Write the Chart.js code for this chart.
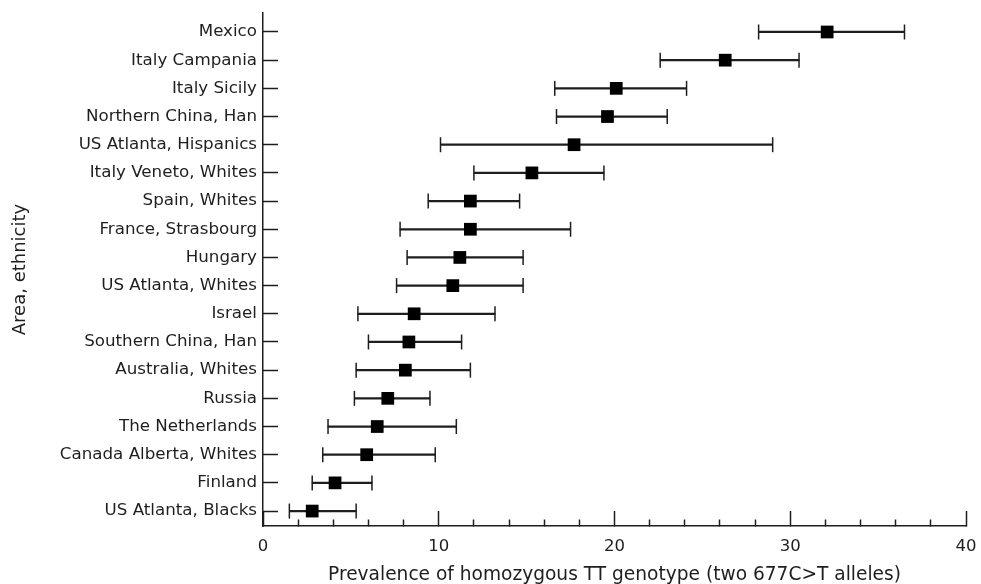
<!DOCTYPE html>
<html>
<head>
<meta charset="utf-8">
<script src="https://cdn.jsdelivr.net/npm/chart.js@4.4.1/dist/chart.umd.min.js"></script>
<style>
  html, body { margin: 0; padding: 0; background: #fff; }
  canvas { display: block; }
</style>
</head>
<body>
<canvas id="prevChart" width="981" height="584"></canvas>
<script>
// area / ethnicity, top to bottom
const categories = [
  'Mexico', 'Italy Campania', 'Italy Sicily', 'Northern China, Han',
  'US Atlanta, Hispanics', 'Italy Veneto, Whites', 'Spain, Whites',
  'France, Strasbourg', 'Hungary', 'US Atlanta, Whites', 'Israel',
  'Southern China, Han', 'Australia, Whites', 'Russia', 'The Netherlands',
  'Canada Alberta, Whites', 'Finland', 'US Atlanta, Blacks'
];
// prevalence of TT genotype (%) and 95% CI
const prevalence = [32.1, 26.3, 20.1, 19.6, 17.7, 15.3, 11.8, 11.8, 11.2, 10.8, 8.6, 8.3, 8.1, 7.1, 6.5, 5.9, 4.1, 2.8];
const lower = [28.2, 22.6, 16.6, 16.7, 10.1, 12.0, 9.4, 7.8, 8.2, 7.6, 5.4, 6.0, 5.3, 5.2, 3.7, 3.4, 2.8, 1.5];
const upper = [36.5, 30.5, 24.1, 23.0, 29.0, 19.4, 14.6, 17.5, 14.8, 14.8, 13.2, 11.3, 11.8, 9.5, 11.0, 9.8, 6.2, 5.3];
const xTickLabels = [0, 10, 20, 30, 40];

const ink = '#1e1e1e';
const fontFamily = '"DejaVu Sans", sans-serif';

const ctx = document.getElementById('prevChart').getContext('2d');

new Chart(ctx, {
  type: 'scatter',
  data: {
    datasets: [
      {
        // squares
        order: 0,
        data: categories.map((c, i) => ({ x: prevalence[i], y: i })),
        pointStyle: 'rect',
        pointRadius: 9,
        backgroundColor: '#000',
        borderWidth: 0
      },
      {
        // CI end caps
        order: 1,
        data: categories.flatMap((c, i) => [{ x: lower[i], y: i }, { x: upper[i], y: i }]),
        pointStyle: 'line',
        rotation: 90,
        pointRadius: 7.5,
        borderColor: ink,
        borderWidth: 1.5
      },
      {
        // CI line
        type: 'bar',
        order: 2,
        indexAxis: 'y',
        data: categories.map((c, i) => ({ x: [lower[i], upper[i]], y: i })),
        barThickness: 1.6,
        backgroundColor: ink,
        borderWidth: 0
      }
    ]
  },
  options: {
    responsive: false,
    animation: false,
    layout: { padding: { top: 13, right: 15, bottom: 0, left: 0 } },
    plugins: { legend: { display: false }, tooltip: { enabled: false } },
    scales: {
      x: {
        type: 'linear',
        min: 0,
        max: 40,
        offset: false,
        afterFit: (s) => { s.height = 58; s.paddingLeft = 0; s.paddingRight = 0; },
        border: { display: true, color: ink, width: 1.5 },
        grid: {
          offset: false,
          drawOnChartArea: false,
          tickLength: -15,
          tickWidth: 1.5,
          tickColor: ink,
          // minor ticks every 2 are shorter than the major ones
          tickBorderDash: (c) => (c.tick && xTickLabels.includes(c.tick.value)) ? [] : [7, 100]
        },
        ticks: {
          stepSize: 2,
          autoSkip: false,
          maxRotation: 0,
          padding: 26,
          color: ink,
          font: { family: fontFamily, size: 16.5 },
          callback: (v) => xTickLabels.includes(v) ? String(v) : ''
        },
        title: {
          display: true,
          text: 'Prevalence of homozygous TT genotype (two 677C>T alleles)',
          color: ink,
          font: { family: fontFamily, size: 18.6, lineHeight: 1 },
          padding: { top: 8, bottom: 0 }
        }
      },
      y: {
        type: 'linear',
        reverse: true,
        min: -0.674,
        max: 17.53,
        offset: false,
        afterFit: (s) => { s.width = 263; s.paddingTop = 0; s.paddingBottom = 0; },
        afterBuildTicks: (s) => { s.ticks = categories.map((c, i) => ({ value: i })); },
        border: { display: true, color: ink, width: 1.5 },
        grid: {
          offset: false,
          drawOnChartArea: false,
          tickLength: -15,
          tickWidth: 1.5,
          tickColor: ink
        },
        ticks: {
          autoSkip: false,
          padding: 21,
          color: ink,
          font: { family: fontFamily, size: 16.7 },
          callback: (v) => categories[v]
        },
        title: {
          display: true,
          text: 'Area, ethnicity',
          color: ink,
          font: { family: fontFamily, size: 18 },
          padding: { top: 10, bottom: 0 }
        }
      }
    }
  }
});
</script>
</body>
</html>
